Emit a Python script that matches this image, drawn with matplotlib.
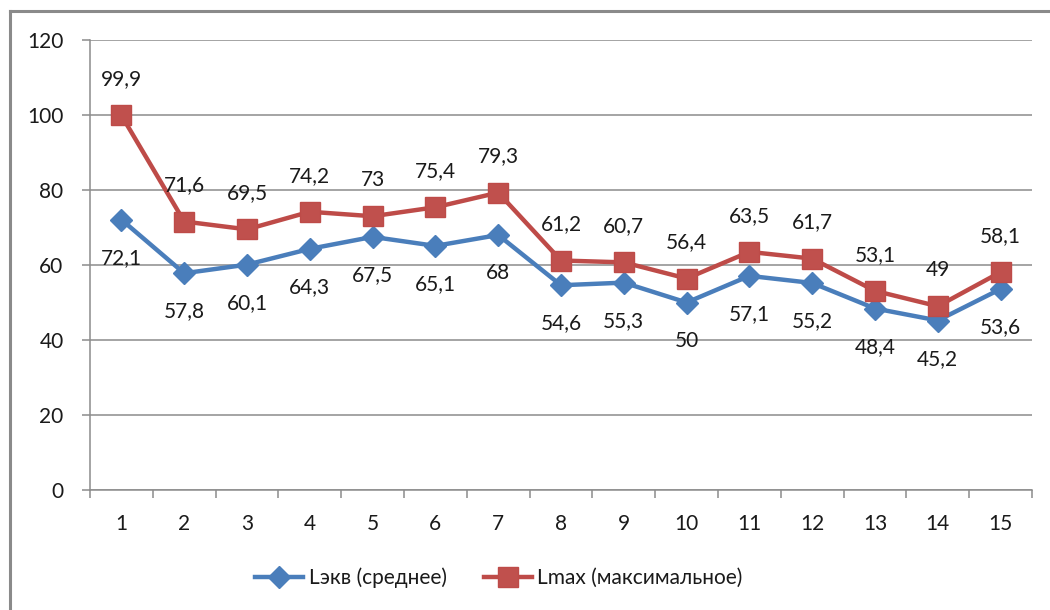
import matplotlib
matplotlib.use("Agg")
import matplotlib.pyplot as plt
from matplotlib.lines import Line2D

# Measurement points and sound levels, dB
points = list(range(1, 16))
l_eq = [72.1, 57.8, 60.1, 64.3, 67.5, 65.1, 68, 54.6, 55.3, 50, 57.1, 55.2, 48.4, 45.2, 53.6]
l_max = [99.9, 71.6, 69.5, 74.2, 73, 75.4, 79.3, 61.2, 60.7, 56.4, 63.5, 61.7, 53.1, 49, 58.1]
series_names = ["Lэкв (среднее)", "Lmax (максимальное)"]
y_ticks = [0, 20, 40, 60, 80, 100, 120]

plt.rcParams["font.family"] = ["Lato", "Open Sans", "DejaVu Sans"]
FS = 15
BLUE = "#4A7EBB"
RED = "#BE4B48"
GRID = "#8C8C8C"
TEXT = "#1A1A1A"

fig = plt.figure(figsize=(10.5, 6.1), dpi=100)
ax = fig.add_axes([90 / 1050, 1 - 490 / 610, (1032 - 90) / 1050, 450 / 610])

ax.plot(points, l_eq, color=BLUE, lw=3.2, marker="D", ms=11,
        mfc=BLUE, mec=BLUE, label=series_names[0], zorder=3)
ax.plot(points, l_max, color=RED, lw=3.2, marker="s", ms=14,
        mfc="#C0504D", mec=RED, label=series_names[1], zorder=4)

def fmt(v):
    return f"{v:g}".replace(".", ",")

for x, v in zip(points, l_eq):
    ax.annotate(fmt(v), (x, v), xytext=(0, -27.5), textcoords="offset points",
                ha="center", va="center", fontsize=FS, color=TEXT, zorder=5)
for x, v in zip(points, l_max):
    ax.annotate(fmt(v), (x, v), xytext=(0, 26), textcoords="offset points",
                ha="center", va="center", fontsize=FS, color=TEXT, zorder=5)

ax.set_xlim(0.5, 15.5)
ax.set_ylim(0, 120)
ax.set_yticks(y_ticks)
ax.set_yticklabels([str(t) for t in y_ticks])
ax.yaxis.grid(True, color=GRID, lw=1.1)
ax.set_axisbelow(True)

# category boundaries carry the tick marks, centers carry the labels
ax.set_xticks([i + 0.5 for i in range(0, 16)])
ax.set_xticklabels([])
ax.set_xticks(points, minor=True)
ax.set_xticklabels([str(p) for p in points], minor=True)
ax.tick_params(axis="x", which="major", length=6, width=1.1, color=GRID, direction="out")
ax.tick_params(axis="x", which="minor", length=0, pad=17, labelsize=FS, labelcolor=TEXT)
ax.tick_params(axis="y", length=6, width=1.1, color=GRID, pad=13, labelsize=FS, labelcolor=TEXT)

for side in ("top", "right"):
    ax.spines[side].set_visible(False)
for side in ("left", "bottom"):
    ax.spines[side].set_color(GRID)
    ax.spines[side].set_linewidth(1.1)

fig.legend(loc="center", bbox_to_anchor=(499 / 1050, 1 - 578 / 610), ncol=2,
           frameon=False, fontsize=FS, handlelength=2.3, handletextpad=0.25,
           columnspacing=1.8, labelcolor=TEXT)

# outer chart border
bx, by = 10 / 1050, 1 - 11 / 610
fig.add_artist(Line2D([bx, 1.0], [by, by], transform=fig.transFigure, color="#8A8A8A", lw=2.2))
fig.add_artist(Line2D([bx, bx], [0.0, by], transform=fig.transFigure, color="#8A8A8A", lw=2.2))

fig.savefig("out.png", dpi=100, facecolor="white")
